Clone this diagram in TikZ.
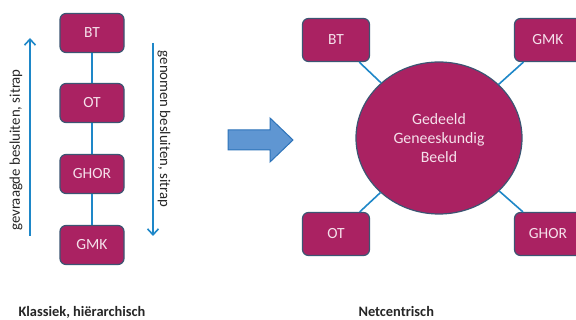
\documentclass[tikz,border=0pt]{standalone}
\usepackage{fontspec}
\setmainfont{Carlito}
\usetikzlibrary{arrows.meta,shapes.geometric}
\definecolor{mag}{RGB}{170,34,98}
\definecolor{edge}{RGB}{60,85,115}
\definecolor{conn}{RGB}{30,135,200}
\definecolor{arrfill}{RGB}{95,150,210}
\definecolor{arrline}{RGB}{45,115,185}
\definecolor{boxtext}{RGB}{245,225,235}
\tikzset{
  rbox/.style={draw=edge, line width=1.2pt, fill=mag, rounded corners=6pt,
    text=boxtext, font=\fontsize{15.5}{18}\selectfont, inner sep=0pt},
  lbox/.style={rbox, minimum width=64pt, minimum height=39pt},
  nbox/.style={rbox, minimum width=67pt, minimum height=43pt},
  link/.style={draw=conn, line width=1.6pt},
  flow/.style={draw=conn, line width=1.6pt, -{Straight Barb[length=6pt,width=11pt,line width=1.6pt]}},
  side/.style={font=\fontsize{14.8}{17}\selectfont, text=black!85},
  caption/.style={font=\bfseries\fontsize{14.4}{17}\selectfont, anchor=west, text=black!85}
}
\begin{document}
\begin{tikzpicture}[x=1pt,y=-1pt]
\clip (0,0) rectangle (576,320);
\fill[white] (0,0) rectangle (576,320);
% left hierarchy
\node[lbox] (bt1) at (92,33) {BT};
\node[lbox] (ot1) at (92,103) {OT};
\node[lbox] (ghor1) at (92,174) {GHOR};
\node[lbox] (gmk1) at (92,245) {GMK};
\draw[link] (bt1) -- (ot1);
\draw[link] (ot1) -- (ghor1);
\draw[link] (ghor1) -- (gmk1);
\coordinate (upS) at (30,236);
\coordinate (upE) at (30,38);
\coordinate (dnS) at (153,43);
\coordinate (dnE) at (153,236);
\draw[flow] (upS) -- (upE);
\draw[flow] (dnS) -- (dnE);
\node[side, rotate=90] (ltxt) at (16,150) {gevraagde besluiten, sitrap};
\node[side, rotate=-90] (rtxt) at (164,129) {genomen besluiten, sitrap};
% block arrow
\draw[fill=arrfill, draw=arrline, line width=1pt] (228,130) -- (270,130) -- (270,118) -- (293,140) -- (270,162) -- (270,150) -- (228,150) -- cycle;
% net-centric
\node[ellipse, draw=edge, line width=1.2pt, fill=mag, minimum width=166pt, minimum height=152pt,
  text=boxtext, align=center, font=\fontsize{15.8}{19}\selectfont] (c) at (439,138) {Gedeeld\\Geneeskundig\\Beeld};
\node[nbox] (bt2) at (336,40) {BT};
\node[nbox] (gmk2) at (548,40) {GMK};
\node[nbox] (ot2) at (336,234) {OT};
\node[nbox] (ghor2) at (548,234) {GHOR};
\draw[link] (bt2) -- (c);
\draw[link] (gmk2) -- (c);
\draw[link] (ot2) -- (c);
\draw[link] (ghor2) -- (c);
% captions
\node[caption] (k) at (15,312) {Klassiek, hiërarchisch};
\node[caption] (n) at (355,312) {Netcentrisch};
\end{tikzpicture}
\end{document}
